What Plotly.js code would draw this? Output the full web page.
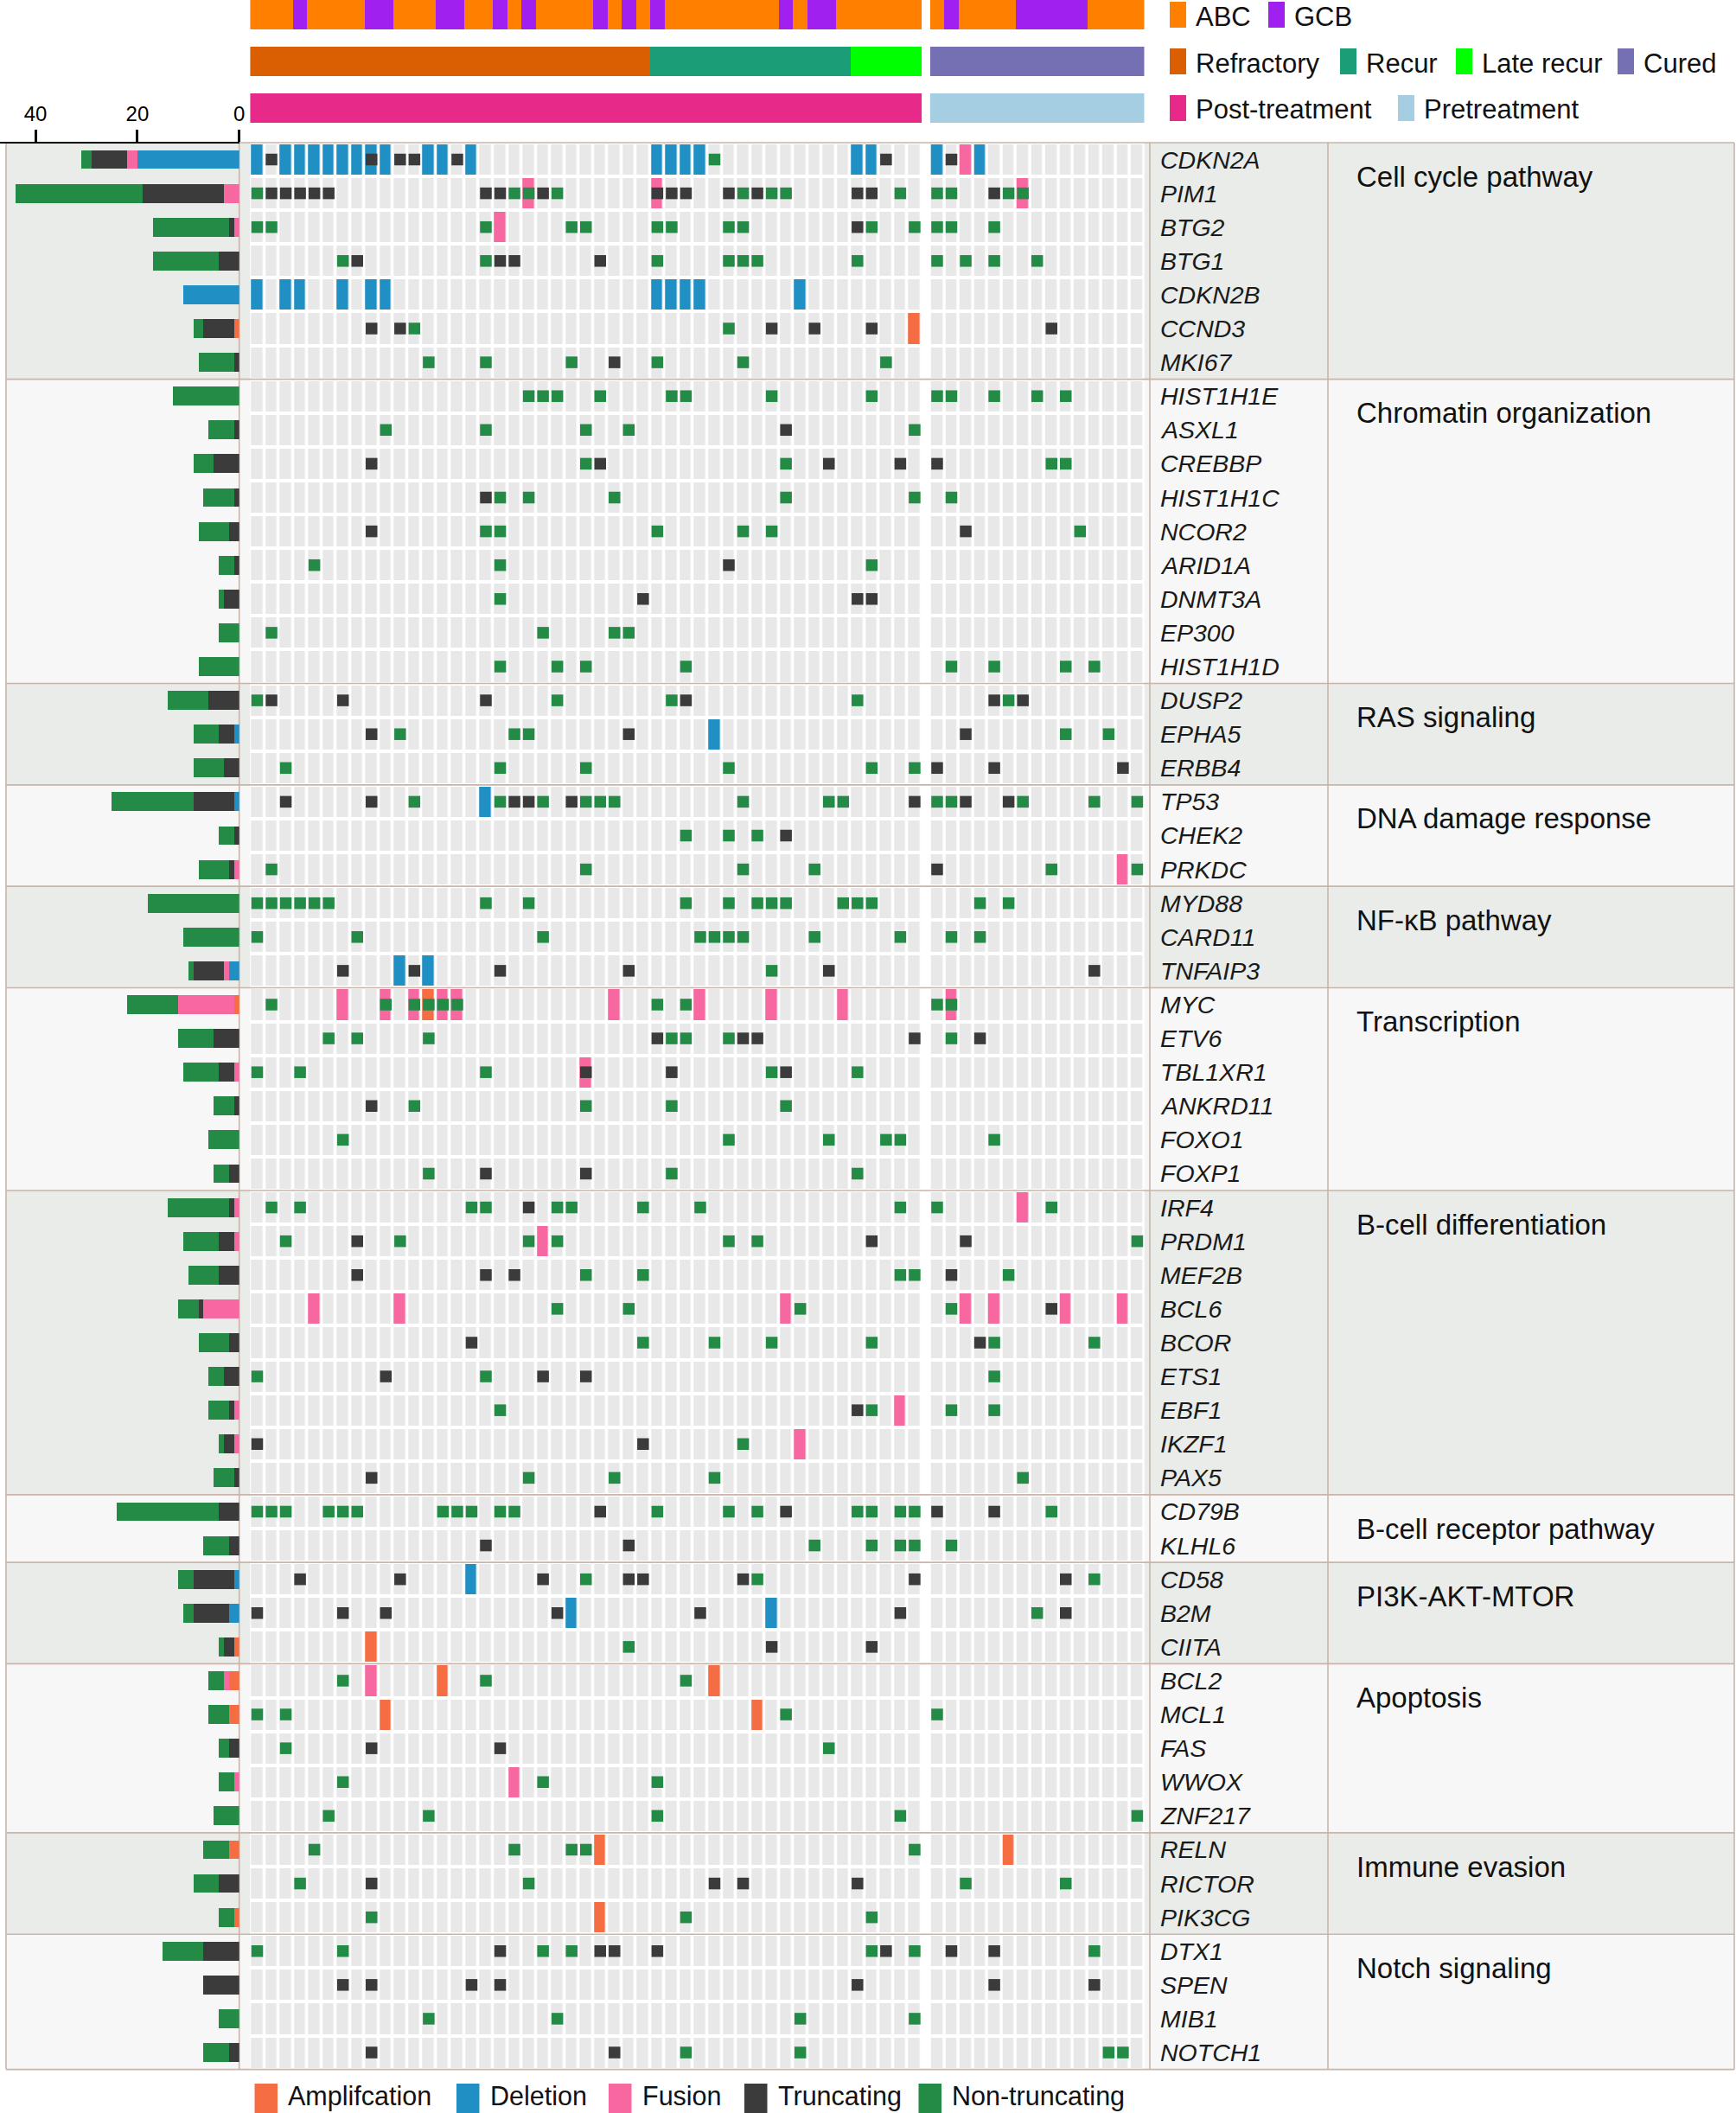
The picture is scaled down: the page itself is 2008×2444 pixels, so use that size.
<!DOCTYPE html>
<html>
<head>
<meta charset="utf-8">
<script src="https://cdn.plot.ly/plotly-3.0.1.min.js"></script>
<style>
  html, body { margin: 0; padding: 0; background: #ffffff; }
  #chart { width: 2008px; height: 2444px; }
</style>
</head>
<body>
<div id="chart"></div>
<script>
// ---------------- DATA ----------------
const genes = ['CDKN2A','PIM1','BTG2','BTG1','CDKN2B','CCND3','MKI67',
  'HIST1H1E','ASXL1','CREBBP','HIST1H1C','NCOR2','ARID1A','DNMT3A','EP300','HIST1H1D',
  'DUSP2','EPHA5','ERBB4',
  'TP53','CHEK2','PRKDC',
  'MYD88','CARD11','TNFAIP3',
  'MYC','ETV6','TBL1XR1','ANKRD11','FOXO1','FOXP1',
  'IRF4','PRDM1','MEF2B','BCL6','BCOR','ETS1','EBF1','IKZF1','PAX5',
  'CD79B','KLHL6',
  'CD58','B2M','CIITA',
  'BCL2','MCL1','FAS','WWOX','ZNF217',
  'RELN','RICTOR','PIK3CG',
  'DTX1','SPEN','MIB1','NOTCH1'];

const pathwayNames = ['Cell cycle pathway','Chromatin organization','RAS signaling','DNA damage response',
  'NF-κB pathway','Transcription','B-cell differentiation','B-cell receptor pathway','PI3K-AKT-MTOR',
  'Apoptosis','Immune evasion','Notch signaling'];
const pathwaySizes = [7, 9, 3, 3, 3, 6, 9, 2, 3, 5, 3, 4];

// sample annotations (62 samples)
const subtypeNames = ['ABC', 'GCB'];
const subtypeIdx = [0,0,0,1,0,0,0,0,1,1, 0,0,0,1,1,0,0,1,0,1, 0,0,0,0,1,0,1,0,1,0,
  0,0,0,0,0,0,0,1,0,1, 1,0,0,0,0,0,0, 0,1,0,0,0,0,1,1,1,1,1,0,0,0,0];
const responseNames = ['Refractory', 'Recur', 'Late recur', 'Cured'];
const responseIdx = [0,0,0,0,0,0,0,0,0,0, 0,0,0,0,0,0,0,0,0,0, 0,0,0,0,0,0,0,0,
  1,1,1,1,1,1,1,1,1,1,1,1,1,1, 2,2,2,2,2,
  3,3,3,3,3,3,3,3,3,3,3,3,3,3,3];
const treatmentNames = ['Post-treatment', 'Pretreatment'];
const treatmentIdx = [0,0,0,0,0,0,0,0,0,0, 0,0,0,0,0,0,0,0,0,0, 0,0,0,0,0,0,0,0,0,0,
  0,0,0,0,0,0,0,0,0,0, 0,0,0,0,0,0,0,
  1,1,1,1,1,1,1,1,1,1,1,1,1,1,1];

// alteration matrix: per gene, the sample columns carrying each alteration
const ampCols = [
  [],[],[],[],[],[46],[],
  [],[],[],[],[],[],[],[],[],
  [],[],[],
  [],[],[],
  [],[],[],
  [12],[],[],[],[],[],
  [],[],[],[],[],[],[],[],[],
  [],[],
  [],[],[8],
  [13,32],[9,35],[],[],[],
  [24,52],[],[24],
  [],[],[],[]];
const delCols = [
  [0,2,3,4,5,6,7,8,9,12,13,15,28,29,30,31,42,43,47,50],[],[],[],[0,2,3,6,8,9,28,29,30,31,38],[],[],
  [],[],[],[],[],[],[],[],[],
  [],[32],[],
  [16],[],[],
  [],[],[10,12],
  [],[],[],[],[],[],
  [],[],[],[],[],[],[],[],[],
  [],[],
  [15],[22,36],[],
  [],[],[],[],[],
  [],[],[],
  [],[],[],[]];
const fusCols = [
  [49],[19,28,53],[17],[],[],[],[],
  [],[],[],[],[],[],[],[],[],
  [],[],[],
  [],[],[60],
  [],[],[],
  [6,9,11,13,14,25,31,36,41,48],[],[23],[],[],[],
  [53],[20],[],[4,10,37,49,51,56,60],[],[],[45],[38],[],
  [],[],
  [],[],[],
  [8],[],[],[18],[],
  [],[],[],
  [],[],[],[]];
const truncCols = [
  [1,8,10,11,14,44,48],[1,2,3,4,5,16,17,20,28,29,30,33,35,42,43,51],[42],[7,17,18,24],[],[8,10,36,39,43,55],[25],
  [],[37],[8,24,40,45,47],[16],[8,49],[33],[27,42,43],[],[],
  [1,6,16,30,51,53],[8,26,49],[47,51,60],
  [2,8,18,19,22,46,49,52],[37],[47],
  [],[],[6,11,17,26,40,58],
  [],[28,34,35,46,50],[23,29,37],[8],[],[16,23],
  [19],[7,43,49],[7,16,18,48],[55],[15,50],[9,20,23],[42],[0,27],[8],
  [24,37,47,51],[16,26],
  [3,10,20,26,27,34,46,56],[0,6,9,21,31,45,56],[36,43],
  [],[],[8,17],[],[],
  [],[8,32,34,42],[],
  [17,24,25,28,44,48,51],[6,8,15,17,42,51,58],[],[8,25]];
const nonTruncCols = [
  [32],[0,18,19,21,34,36,37,45,47,48,52,53],[0,1,16,22,23,28,29,33,34,43,46,47,48,51],
  [6,16,28,33,34,35,42,47,49,51,54],[],[11,33],[12,16,22,28,34,44],
  [19,20,21,24,29,30,36,43,47,48,51,54,56],[9,16,23,26,46],[23,37,55,56],[17,19,25,37,46,48],
  [16,17,28,34,36,57],[4,17,43],[17],[1,20,25,26],[17,21,23,30,48,51,56,58],
  [0,21,29,42,52],[10,18,19,56,59],[2,17,23,33,43,46],
  [11,17,20,23,24,25,34,40,41,47,48,53,58,61],[30,33,35],[1,23,34,39,55,61],
  [0,1,2,3,4,5,16,19,30,33,35,36,37,41,42,43,50,52],[0,7,20,31,32,33,34,39,45,48,50],[36],
  [1,9,11,12,13,14,28,30,47,48],[5,7,12,29,30,33,48],[0,3,16,36,42],[11,23,29,37],[6,33,40,44,45,51],[12,29,42],
  [1,3,15,16,21,22,27,31,45,47,55],[2,10,19,21,33,35,61],[23,27,45,46,52],[21,26,38,48],
  [27,32,36,43,51,58],[0,16,51],[17,43,48,51],[34],[19,25,32,53],
  [0,1,2,5,6,7,13,14,15,17,18,28,33,35,42,43,45,46,55],[39,43,45,46,48],
  [23,35,58],[54],[26],
  [6,16,30],[0,2,37,47],[2,40],[6,20,28],[5,12,28,45,61],
  [4,18,22,23,46],[3,19,49,56],[8,30,43],
  [0,6,20,22,43,46,58],[],[12,21,38,46],[30,38,59,60]];

// side bar chart: number of alterations per gene
const barAmp   = [0,0,0,0,0,1,0, 0,0,0,0,0,0,0,0,0, 0,0,0, 0,0,0, 0,0,0, 1,0,0,0,0,0, 0,0,0,0,0,0,0,0,0, 0,0, 0,0,1, 2,2,0,0,0, 2,0,1, 0,0,0,0];
const barDel   = [20,0,0,0,11,0,0, 0,0,0,0,0,0,0,0,0, 0,1,0, 1,0,0, 0,0,2, 0,0,0,0,0,0, 0,0,0,0,0,0,0,0,0, 0,0, 1,2,0, 0,0,0,0,0, 0,0,0, 0,0,0,0];
const barFus   = [2,3,1,0,0,0,0, 0,0,0,0,0,0,0,0,0, 0,0,0, 0,0,1, 0,0,1, 11,0,1,0,0,0, 1,1,0,7,0,0,1,1,0, 0,0, 0,0,0, 1,0,0,1,0, 0,0,0, 0,0,0,0];
const barTrunc = [7,16,1,4,0,6,1, 0,1,5,1,2,1,3,0,0, 6,3,3, 8,1,1, 0,0,6, 0,5,3,1,0,2, 1,3,4,1,2,3,1,2,1, 4,2, 8,7,2, 0,0,2,0,0, 0,4,0, 7,7,0,2];
const barNon   = [2,25,15,13,0,2,7, 13,5,4,6,6,3,1,4,8, 8,5,6, 16,3,6, 18,11,1, 10,7,7,4,6,3, 12,7,6,4,6,3,4,1,4, 20,5, 3,2,1, 3,4,2,3,5, 5,5,3, 8,0,4,5];

const alterationNames = ['Amplifcation', 'Deletion', 'Fusion', 'Truncating', 'Non-truncating'];

// ---------------- STYLE ----------------
const W = 2008, H = 2444;
const fx = p => p / W;
const fy = p => 1 - p / H;
const FONT = 'Liberation Sans, Arial, Helvetica, sans-serif';
const C_AMP = '#F46D43', C_DEL = '#1F8FC4', C_FUS = '#F768A1', C_TRU = '#3B3B3B', C_NON = '#238B45';
const C_CELL = '#E8E8E8';
const subtypeColors = ['#FF7F00', '#A020F0'];
const responseColors = ['#D95F02', '#1B9E77', '#00FF00', '#7570B3'];
const treatmentColors = ['#E7298A', '#A6CEE3'];
const bandColors = ['#E9ECE8', '#F7F7F7'];
const lineColor = '#C9B5A9';

function discreteScale(colors) {
  const n = colors.length, cs = [];
  colors.forEach((c, i) => { cs.push([i / n, c]); cs.push([(i + 1) / n, c]); });
  return cs;
}

const nS = treatmentIdx.length;
const allCols = [...Array(nS).keys()];
const postCols = allCols.filter(c => treatmentIdx[c] === 0);
const preCols = allCols.filter(c => treatmentIdx[c] === 1);
const geneIdx = genes.map((g, i) => i);

const traces = [];

// background cells + full-height alteration cells
[[postCols, 'x'], [preCols, 'x2']].forEach(([cols, xa]) => {
  traces.push({
    type: 'heatmap', x: cols, y: geneIdx, xaxis: xa, yaxis: 'y',
    z: genes.map(() => cols.map(() => 1)), zmin: 0, zmax: 1,
    colorscale: [[0, C_CELL], [1, C_CELL]], showscale: false,
    xgap: 3.5, ygap: 4, hoverinfo: 'skip'
  });
  const z = genes.map((g, gi) => cols.map(c => {
    if (ampCols[gi].includes(c)) return 0;
    if (delCols[gi].includes(c)) return 1;
    if (fusCols[gi].includes(c)) return 2;
    return null;
  }));
  traces.push({
    type: 'heatmap', x: cols, y: geneIdx, xaxis: xa, yaxis: 'y', z: z,
    zmin: -0.5, zmax: 2.5, colorscale: discreteScale([C_AMP, C_DEL, C_FUS]),
    showscale: false, xgap: 3.5, ygap: 4, hoverinfo: 'skip'
  });
  // mutation squares
  [[truncCols, C_TRU], [nonTruncCols, C_NON]].forEach(([lists, color]) => {
    const xs = [], ys = [];
    lists.forEach((list, gi) => list.forEach(c => { if (cols.includes(c)) { xs.push(c); ys.push(gi); } }));
    traces.push({
      type: 'scatter', mode: 'markers', x: xs, y: ys, xaxis: xa, yaxis: 'y',
      marker: { symbol: 'square', size: 13.5, color: color, line: { width: 0 } },
      hoverinfo: 'skip', cliponaxis: false
    });
  });
  // header annotation bars
  [[subtypeIdx, subtypeColors, 'y2'], [responseIdx, responseColors, 'y3'], [treatmentIdx, treatmentColors, 'y4']]
    .forEach(([idx, colors, ya]) => {
      traces.push({
        type: 'heatmap', x: cols, y: [0], xaxis: xa, yaxis: ya,
        z: [cols.map(c => idx[c])], zmin: -0.5, zmax: colors.length - 0.5,
        colorscale: discreteScale(colors), showscale: false, hoverinfo: 'skip'
      });
    });
});

// side bar chart
[[barAmp, C_AMP], [barDel, C_DEL], [barFus, C_FUS], [barTrunc, C_TRU], [barNon, C_NON]].forEach(([vals, color]) => {
  traces.push({
    type: 'bar', orientation: 'h', x: vals, y: geneIdx, xaxis: 'x3', yaxis: 'y',
    width: 0.56, marker: { color: color, line: { width: 0 } }, hoverinfo: 'skip'
  });
});

// ---------------- SHAPES & ANNOTATIONS ----------------
const shapes = [];
const annotations = [];
let start = 0;
const groupStarts = [];
pathwaySizes.forEach((n, i) => {
  groupStarts.push(start);
  const y0 = start - 0.5, y1 = start + n - 0.5;
  const col = bandColors[i % 2];
  [[fx(7), fx(289.25)], [fx(1323.7), fx(2006)]].forEach(([a, b]) => {
    shapes.push({ type: 'rect', xref: 'paper', yref: 'y', x0: a, x1: b, y0: y0, y1: y1,
      fillcolor: col, line: { width: 0 }, layer: 'below' });
  });
  annotations.push({ xref: 'paper', yref: 'y', x: fx(1567), y: start + 0.5, text: pathwayNames[i],
    showarrow: false, xanchor: 'left', yanchor: 'middle', font: { family: FONT, size: 33, color: '#111' } });
  start += n;
});
// horizontal separators
groupStarts.concat([genes.length]).forEach(s => {
  shapes.push({ type: 'line', xref: 'paper', yref: 'y', x0: fx(7), x1: fx(2006), y0: s - 0.5, y1: s - 0.5,
    line: { color: lineColor, width: 1.6 }, layer: 'below' });
});
// vertical separators
[7, 276.7, 1330, 1536, 2006].forEach(xp => {
  shapes.push({ type: 'line', xref: 'paper', yref: 'y', x0: fx(xp), x1: fx(xp), y0: -0.5, y1: genes.length - 0.5,
    line: { color: lineColor, width: 1.6 }, layer: 'below' });
});

// gene labels
genes.forEach((g, i) => {
  annotations.push({ xref: 'paper', yref: 'y', x: fx(1340), y: i, text: '<i>' + g + '</i>',
    showarrow: false, xanchor: 'left', yanchor: 'middle', font: { family: FONT, size: 28.5, color: '#1a1a1a' } });
});

// top-right legend
const topLegend = [
  [subtypeNames, subtypeColors, [1353, 1467], 17],
  [responseNames, responseColors, [1353, 1550, 1684, 1871], 71],
  [treatmentNames, treatmentColors, [1353, 1617], 125]
];
topLegend.forEach(([names, colors, xs, yc]) => {
  names.forEach((n, i) => {
    shapes.push({ type: 'rect', xref: 'paper', yref: 'paper', x0: fx(xs[i]), x1: fx(xs[i] + 19),
      y0: fy(yc + 15), y1: fy(yc - 15), fillcolor: colors[i], line: { width: 0 } });
    annotations.push({ xref: 'paper', yref: 'paper', x: fx(xs[i] + 28), y: fy(yc + 2), text: n,
      showarrow: false, xanchor: 'left', yanchor: 'middle', font: { family: FONT, size: 31, color: '#111' } });
  });
});

// bottom legend
const bottomColors = [C_AMP, C_DEL, C_FUS, C_TRU, C_NON];
const bottomX = [294.5, 528, 704, 861, 1062.5];
alterationNames.forEach((n, i) => {
  shapes.push({ type: 'rect', xref: 'paper', yref: 'paper', x0: fx(bottomX[i]), x1: fx(bottomX[i] + 26.5),
    y0: fy(2444), y1: fy(2410), fillcolor: bottomColors[i], line: { width: 0 } });
  annotations.push({ xref: 'paper', yref: 'paper', x: fx(bottomX[i] + 36.5), y: fy(2424), text: n,
    showarrow: false, xanchor: 'left', yanchor: 'middle', font: { family: FONT, size: 30.5, color: '#111' } });
});

const hidden = { visible: false, showgrid: false, zeroline: false, fixedrange: true };
const layout = {
  width: W, height: H,
  margin: { l: 0, r: 0, t: 0, b: 0, pad: 0 },
  paper_bgcolor: '#ffffff', plot_bgcolor: 'rgba(0,0,0,0)',
  showlegend: false, barmode: 'stack', bargap: 0,
  font: { family: FONT, color: '#000' },
  xaxis:  Object.assign({ domain: [fx(289.25), fx(1066.2)], range: [-0.5, postCols.length - 0.5], anchor: 'y' }, hidden),
  xaxis2: Object.assign({ domain: [fx(1075.7), fx(1323.7)], range: [postCols.length - 0.5, nS - 0.5], anchor: 'y' }, hidden),
  xaxis3: {
    domain: [0, fx(276.7)], range: [46.98, 0], anchor: 'free', position: fy(164.5), side: 'top',
    tickvals: [0, 20, 40], ticktext: ['0', '20', '40'], ticks: 'outside', ticklen: 14, tickwidth: 3, tickcolor: '#000',
    showline: true, linecolor: '#000', linewidth: 2.5, showgrid: false, zeroline: false,
    tickfont: { family: FONT, size: 24, color: '#000' }, fixedrange: true
  },
  yaxis:  Object.assign({ domain: [fy(2397.5), fy(161.05)], range: [genes.length - 0.4, -0.6], anchor: 'x' }, hidden),
  yaxis2: Object.assign({ domain: [fy(34), fy(0)], range: [-0.5, 0.5], anchor: 'x' }, hidden),
  yaxis3: Object.assign({ domain: [fy(88), fy(54)], range: [-0.5, 0.5], anchor: 'x' }, hidden),
  yaxis4: Object.assign({ domain: [fy(142), fy(108)], range: [-0.5, 0.5], anchor: 'x' }, hidden),
  shapes: shapes,
  annotations: annotations
};

Plotly.newPlot('chart', traces, layout, { staticPlot: true, displayModeBar: false });
</script>
</body>
</html>
